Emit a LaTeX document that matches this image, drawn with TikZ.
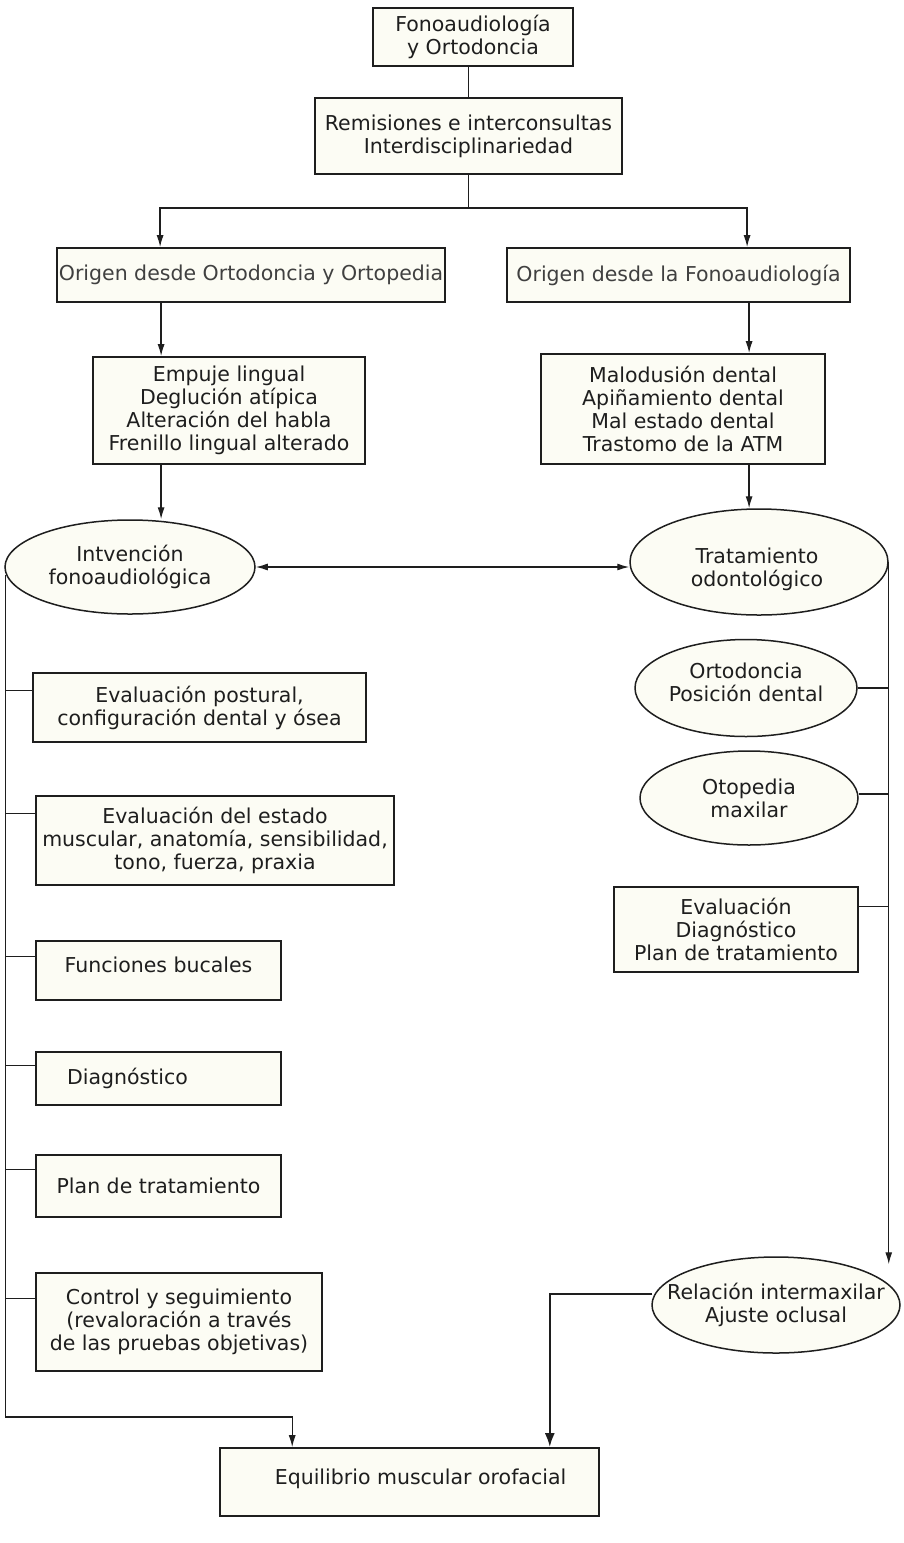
\documentclass[tikz,border=0pt]{standalone}
\usepackage{fontspec}
\setmainfont{DejaVu Sans}
\usetikzlibrary{shapes.geometric,arrows.meta,calc}
\definecolor{cream}{HTML}{FCFCF4}
\definecolor{ink}{HTML}{1E1E1E}
\tikzset{
  x=1pt,y=-1pt,
  txt/.style={inner sep=0pt,align=center,text=ink,font=\fontsize{20.5}{23}\selectfont},
  base/.style={txt,draw=ink,fill=cream},
  box/.style={base,rectangle,line width=1.8pt},
  oval/.style={base,ellipse,line width=1.5pt},
  conn/.style={draw=ink,line width=1.3pt},
  arr/.style={conn,-{Latex[length=12pt,width=7pt]}},
  darr/.style={conn,{Latex[length=12pt,width=7pt]}-{Latex[length=12pt,width=7pt]}},
  bigarr/.style={draw=ink,line width=2.4pt,-{Latex[length=14pt,width=10pt]}}
}
\begin{document}
\begin{tikzpicture}
\useasboundingbox[fill=white] (0,0) rectangle (904,1543);

% top chain
\node[box,minimum width=200pt,minimum height=58pt] (top) at (473,37) {Fonoaudiología\\y Ortodoncia};
\node[box,minimum width=307pt,minimum height=76pt] (rem) at (468.5,136) {Remisiones e interconsultas\\Interdisciplinariedad};
\node[box,minimum width=388pt,minimum height=54pt,text=ink!85] (oo) at (251,275) {Origen desde Ortodoncia y Ortopedia};
\node[box,minimum width=343pt,minimum height=54pt,text=ink!85] (of) at (678.5,275) {Origen desde la Fonoaudiología};
\node[box,minimum width=272pt,minimum height=107pt] (emp) at (229,410.5) {Empuje lingual\\Deglución atípica\\Alteración del habla\\Frenillo lingual alterado};
\node[box,minimum width=284pt,minimum height=110pt] (mal) at (683,409) {Malodusión dental\\Apiñamiento dental\\Mal estado dental\\Trastomo de la ATM};

% ellipses
\node[oval,minimum width=250pt,minimum height=94pt] (ifo) at (130,567) {Intvención\\fonoaudiológica};
\node[oval,minimum width=258pt,minimum height=106pt] (tod) at (759,562) {};
\node[txt] (todt) at ($(tod)+(-2,7)$) {Tratamiento\\odontológico};

% left column
\node[box,line width=1.6pt,minimum width=333pt,minimum height=69pt] (ev1) at (199.5,707.5) {Evaluación postural,\\configuración dental y ósea};
\node[box,line width=1.6pt,minimum width=358pt,minimum height=89pt] (ev2) at (215,840.5) {Evaluación del estado\\muscular, anatomía, sensibilidad,\\tono, fuerza, praxia};
\node[box,line width=1.6pt,minimum width=245pt,minimum height=59pt] (fb) at (158.5,970.5) {\raisebox{11pt}{Funciones bucales}};
\node[box,line width=1.6pt,minimum width=245pt,minimum height=53pt] (dg) at (158.5,1078.5) {Diagnóstico\hspace*{62pt}};
\node[box,line width=1.6pt,minimum width=245pt,minimum height=62pt] (pt) at (158.5,1186) {Plan de tratamiento};
\node[box,line width=1.6pt,minimum width=286pt,minimum height=98pt] (cs) at (179,1322) {Control y seguimiento\\(revaloración a través\\de las pruebas objetivas)};
\node[box,line width=1.6pt,minimum width=379pt,minimum height=68pt] (eq) at (409.5,1482) {\hspace*{22pt}\raisebox{10pt}{Equilibrio muscular orofacial}};

% right column
\node[oval,minimum width=222pt,minimum height=97pt] (ort) at (746,688) {};
\node[txt] (ortt) at ($(ort)+(0,-6)$) {Ortodoncia\\Posición dental};
\node[oval,minimum width=218pt,minimum height=94pt] (otp) at (749,798) {Otopedia\\maxilar};
\node[box,line width=1.6pt,minimum width=244pt,minimum height=85pt] (evr) at (736,929.5) {Evaluación\\Diagnóstico\\Plan de tratamiento};
\node[oval,minimum width=248pt,minimum height=96pt] (rel) at (776,1305) {};
\node[txt] (relt) at (rel) {Relación intermaxilar\\Ajuste oclusal};

% connectors top
\draw[conn] (rem.north) -- (rem.north |- top.south);
\coordinate (split) at ($(rem.south)+(0,33)$);
\draw[conn] (rem.south) -- (split);
\draw[arr] (split) -| ($(oo.north west)+(104,0)$);
\draw[arr] (split) -| ($(of.north west)+(241,0)$);
\coordinate (oa) at ($(oo.south west)+(105,0)$);
\draw[arr] (oa) -- (oa |- emp.north);
\coordinate (fa) at ($(of.south west)+(243,0)$);
\draw[arr] (fa) -- (fa |- mal.north);
\coordinate (ea) at ($(emp.south west)+(69,0)$);
\draw[arr] (ea) -- (ea |- ifo.north);
\coordinate (ma) at ($(mal.south west)+(209,0)$);
\draw[arr] (ma) -- (ma |- tod.north);

% double arrow between ellipses
\draw[darr] (ifo.east) -- (ifo.east -| tod.west);

% left trunk
\coordinate (lb) at ($(ifo.west)+(1,850)$);
\draw[conn] ($(ifo.west)+(1,8)$) -- (lb);
\draw[arr] (lb) -| ($(eq.north west)+(73,0)$);
\foreach \n/\d in {ev1/18,ev2/18,fb/16,dg/14,pt/15,cs/26}{
  \draw[conn] ($(\n.north west)+(0,\d)$) coordinate (t\n) -- (t\n -| lb);
}

% right trunk
\coordinate (relTop) at ($(rel.north)+(0,8)$);
\draw[arr] (tod.east) -- (tod.east |- relTop);
\draw[conn] (ort.east) -- (ort.east -| tod.east);
\draw[conn] ($(otp.east)+(0,-4)$) coordinate (totp) -- (totp -| tod.east);
\draw[conn] ($(evr.north east)+(0,20)$) coordinate (tevr) -- (tevr -| tod.east);

% relation to equilibrium
\draw[bigarr] ($(rel.west)+(1,-11)$) -| ($(eq.north east)+(-50,0)$);
\end{tikzpicture}
\end{document}
